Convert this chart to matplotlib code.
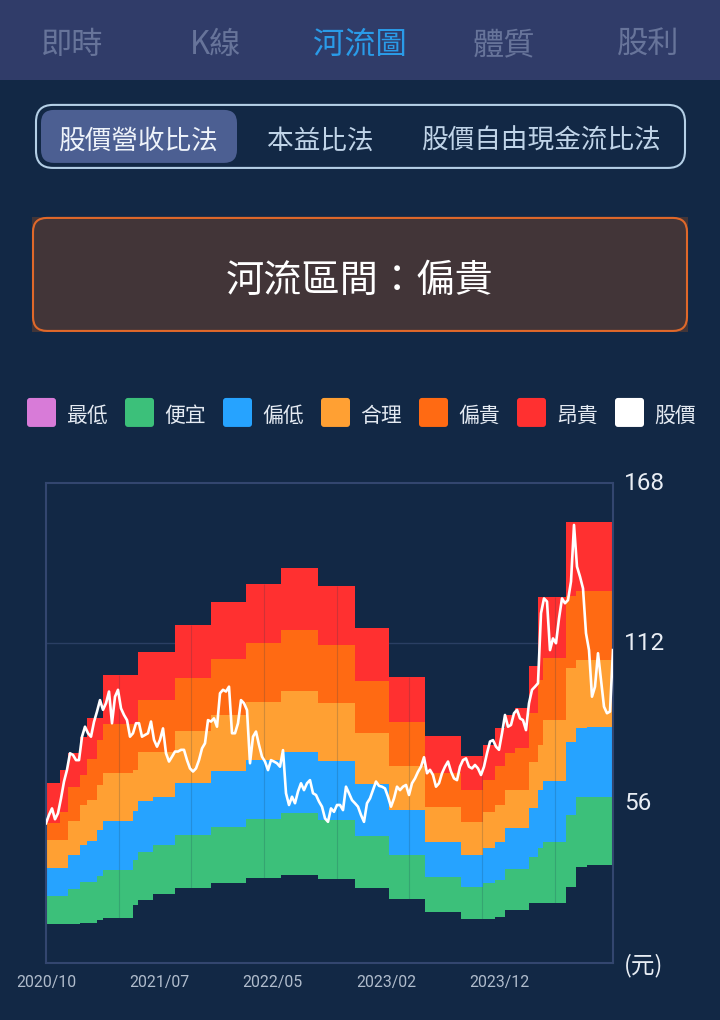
import matplotlib
matplotlib.use('Agg')
import matplotlib.pyplot as plt
import numpy as np
from matplotlib.patches import FancyBboxPatch, Rectangle

plt.rcParams['font.family'] = ['Noto Sans CJK TC', 'DejaVu Sans']

BG = '#122845'
TAB_BG = '#303C69'

tabs = ['即時', 'K線', '河流圖', '體質', '股利']
methods = ['股價營收比法', '本益比法', '股價自由現金流比法']
zone_text = '河流區間：偏貴'
legend_labels = ['最低', '便宜', '偏低', '合理', '偏貴', '昂貴', '股價']
legend_colors = ['#D87BD8', '#3CC07A', '#26A3FF', '#FFA033', '#FF6A13', '#FF3030', '#FFFFFF']

x_ticks = [0, 9, 18, 27, 36]
x_labels = ['2020/10', '2021/07', '2022/05', '2023/02', '2023/12']
y_ticks = [168, 112, 56]
grid_months = [5.8, 11.5, 17.3, 23.1, 28.8, 34.6, 40.4]

# step edges of the river bands, months since 2020/10
band_months = [0, 1.1, 1.75, 2.7, 3.25, 4.05, 4.5, 6.9, 7.3, 8.5, 10.25, 13.1, 15.9, 18.65, 21.6,
               24.5, 27.2, 30.1, 32.9, 34.7, 35.6, 36.4, 37.2, 38.3, 39.05, 39.45, 41.25, 42.1, 42.9, 45]

lowest = [13.7, 13.7, 13.7, 14.0, 14.0, 15.1, 15.8, 20.3, 22.1, 24.2, 26.3, 28.0, 29.8, 30.8, 29.4,
          26.3, 22.4, 17.9, 15.4, 15.4, 16.1, 18.6, 18.6, 21.0, 21.0, 21.0, 26.6, 33.6, 34.3]
cheap = [23.5, 23.5, 25.9, 28.4, 28.4, 30.5, 32.6, 36.1, 38.9, 41.3, 44.8, 47.6, 50.4, 52.5, 50.1,
         44.5, 37.8, 30.1, 26.6, 28.0, 29.1, 32.9, 32.9, 37.1, 40.3, 42.4, 51.8, 58.1, 58.1]
low = [33.3, 33.3, 37.8, 41.3, 42.7, 46.6, 49.7, 53.2, 56.7, 58.1, 63.0, 67.2, 71.1, 73.9, 70.7,
       62.7, 53.6, 42.4, 37.8, 40.3, 42.4, 47.3, 47.3, 54.3, 60.6, 63.7, 77.4, 82.3, 82.6]
fair = [43.1, 43.1, 49.7, 55.3, 57.1, 62.3, 66.5, 67.6, 73.9, 73.9, 81.2, 86.8, 91.4, 95.2, 91.0,
        80.5, 69.0, 54.6, 49.4, 52.9, 55.3, 60.6, 60.6, 70.4, 76.3, 85.1, 103.3, 106.1, 106.1]
high = [49.0, 52.9, 61.6, 65.8, 71.4, 78.1, 83.7, 83.7, 92.1, 92.1, 99.8, 106.4, 112.0, 116.6, 111.3,
        98.7, 84.4, 66.5, 60.6, 64.1, 69.0, 73.5, 75.3, 87.5, 99.1, 106.8, 128.5, 130.2, 130.2]
expensive = [63.0, 67.6, 73.5, 79.1, 85.8, 85.8, 100.8, 100.8, 108.9, 108.9, 118.3, 126.4, 132.7, 138.3, 132.0,
             117.3, 100.1, 79.5, 72.5, 76.3, 82.3, 86.8, 89.3, 104.0, 128.1, 128.1, 154.4, 154.4, 154.4]

# evenly spaced over the whole axis
price = [48.9, 51.8, 54.1, 50.3, 52.4, 57.6, 63.5, 67.6, 73.4, 72.8, 71.0, 71.0, 79.2, 82.7, 80.4, 79.2,
         84.4, 88.0, 92.0, 88.6, 90.9, 95.0, 83.9, 93.2, 95.6, 89.1, 86.8, 85.0, 79.2, 80.4, 83.9, 83.9,
         79.2, 79.8, 80.4, 84.5, 78.1, 75.7, 78.1, 82.1, 73.4, 70.5, 72.2, 74.0, 74.0, 74.6, 74.6, 71.0,
         68.1, 67.0, 68.1, 71.0, 75.1, 76.9, 85.0, 84.5, 85.6, 82.7, 94.4, 95.6, 95.0, 96.7, 80.4, 80.4,
         83.9,
         92.0, 90.9, 88.5, 69.9, 79.2, 81.0, 76.3, 72.2, 70.5, 67.5, 71.0, 70.5, 69.9, 68.7, 74.5, 59.4,
         55.3, 58.2, 55.9, 60.0, 62.9, 60.5, 62.9, 64.0, 59.4, 58.8, 56.5, 54.7, 50.6, 49.4, 54.1, 52.9,
         55.3, 55.3, 53.5, 61.7, 59.4, 57.0, 55.9, 54.7, 51.8, 49.4, 55.9, 57.6, 60.5, 63.5, 62.0, 61.7,
         61.1, 58.2, 54.7, 57.6, 61.7, 60.5, 61.7, 62.3, 58.8, 62.9, 64.6, 66.9, 68.7, 72.0, 66.4, 67.6,
         65.8, 61.7, 62.9, 66.4, 68.7, 70.5, 67.0, 64.6, 64.0, 68.7, 71.0, 71.6, 68.7,
         68.1, 69.3, 68.1, 65.8, 68.7, 73.4, 77.5, 78.0, 75.7, 74.6, 80.4, 86.8, 82.7, 83.3, 87.4, 88.6,
         85.6, 85.0, 81.5, 90.9, 95.6, 96.7, 97.9, 122.4, 127.6, 126.5, 109.5, 113.6, 111.9, 120.6, 127.6,
         125.9, 127.0, 133.5, 153.3, 138.7, 135.2, 131.1, 115.4, 109.5, 93.2, 96.7, 108.4, 99.0, 89.7,
         87.4, 88.0, 109.5]

# 10.2 in truncates to 1019 px
fig = plt.figure(figsize=(7.2, 10.201), dpi=100, facecolor=BG)

# page furniture in pixel coordinates
ui = fig.add_axes([0, 0, 1, 1])
ui.set_xlim(0, 720)
ui.set_ylim(1020, 0)
ui.axis('off')

ui.add_patch(Rectangle((0, 0), 720, 80, facecolor=TAB_BG, edgecolor='none'))
for i, (tab, tx) in enumerate(zip(tabs, [72, 216, 360, 504, 648])):
    ui.text(tx, 45, tab, ha='center', va='center', fontsize=22.5,
            color='#2A9BE8' if i == 2 else '#67749A')

ui.add_patch(FancyBboxPatch((36, 105), 649, 63, boxstyle='round,pad=0,rounding_size=17',
                            facecolor='none', edgecolor='#B4CFE6', linewidth=1.5))
ui.add_patch(FancyBboxPatch((41, 110), 196, 53, boxstyle='round,pad=0,rounding_size=13',
                            facecolor='#4C5F92', edgecolor='none'))
for i, (name, tx) in enumerate(zip(methods, [138, 320, 541])):
    ui.text(tx, 141, name, ha='center', va='center', fontsize=19.2,
            color='#EEF3FA' if i == 0 else '#C0D4E8')

ui.add_patch(Rectangle((32, 217), 656, 115, facecolor='#423538', edgecolor='none'))
ui.add_patch(FancyBboxPatch((33, 218), 654, 113, boxstyle='round,pad=0,rounding_size=14',
                            facecolor='#423538', edgecolor='#E0682A', linewidth=1.5))
ui.text(360, 281, zone_text, ha='center', va='center', fontsize=27.5, color='white')

for label, color, sx in zip(legend_labels, legend_colors, [27, 125, 223, 321, 419, 517, 615]):
    ui.add_patch(FancyBboxPatch((sx, 398), 29, 29, boxstyle='round,pad=0,rounding_size=3',
                                facecolor=color, edgecolor='none'))
    ui.text(sx + 39, 416, label, ha='left', va='center', fontsize=15, color='#E4EAF2')

# chart
ax = fig.add_axes([46 / 720, (1020 - 963) / 1020, 567 / 720, 480 / 1020])
ax.patch.set_alpha(0)
ax.set_xlim(0, 45)
ax.set_ylim(0, 168)

ax.axhline(112, color='#2A3F63', linewidth=1, zorder=1)

bands = [lowest, cheap, low, fair, high, expensive]
for lower, upper, color in zip(bands[:-1], bands[1:], legend_colors[1:6]):
    ax.fill_between(band_months, lower + [lower[-1]], upper + [upper[-1]], step='post',
                    color=color, linewidth=0, zorder=2)

# grid lines only show up on top of the river
for m in grid_months:
    idx = np.searchsorted(band_months, m) - 1
    ax.vlines(m, lowest[idx], expensive[idx], color='#1B3A50', alpha=0.2, linewidth=0.8, zorder=3)

ax.plot(np.linspace(0, 45, len(price)), price, color='white', linewidth=1.9, zorder=4)

for spine in ax.spines.values():
    spine.set_color('#33466F')
    spine.set_linewidth(1.5)

ax.set_xticks(x_ticks)
ax.set_xticklabels(x_labels, fontsize=11.4, color='#B0BCCC', family=['Roboto', 'DejaVu Sans'])
ax.tick_params(axis='x', length=0, pad=8.5)
ax.yaxis.tick_right()
ax.set_yticks(y_ticks)
ax.set_yticklabels([str(v) for v in y_ticks], fontsize=17.5, color='#E8EDF4', family=['Roboto', 'DejaVu Sans'])
ax.tick_params(axis='y', length=0, pad=8)
for lbl, tick in zip(ax.get_yticklabels(), y_ticks):
    lbl.set_verticalalignment('center')

ui.text(624, 965, '(元)', ha='left', va='center', fontsize=17, color='#E8EDF4')

fig.savefig('out.png', dpi=100, facecolor=BG)
